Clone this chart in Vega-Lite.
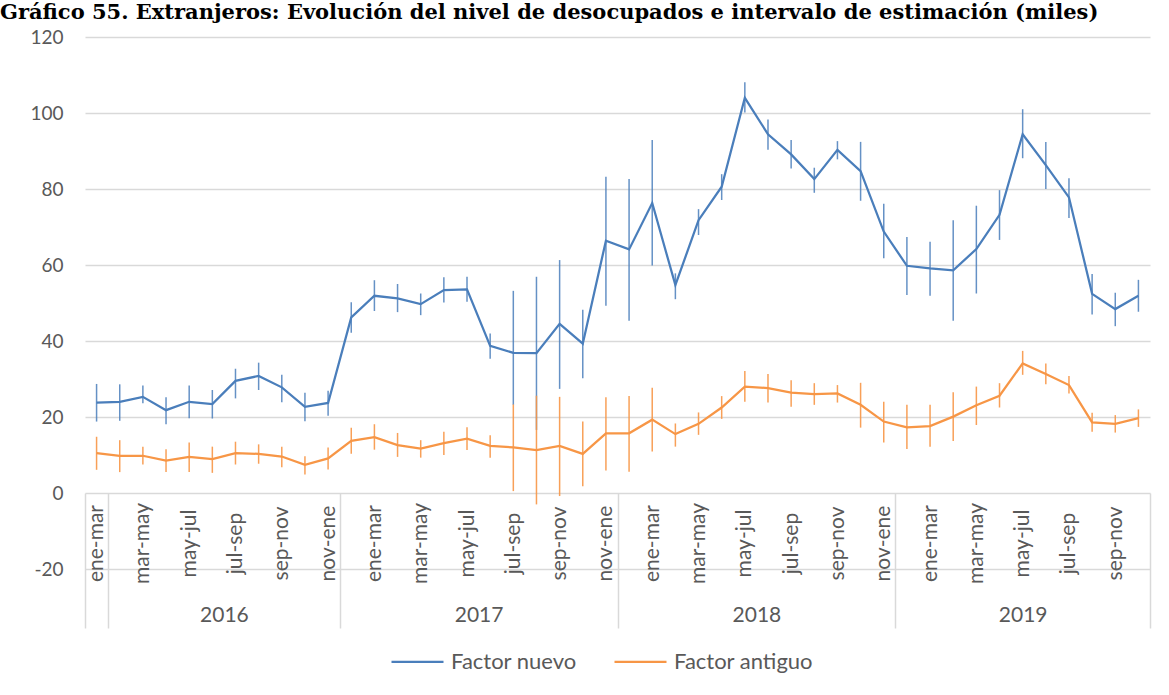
{
  "$schema": "https://vega.github.io/schema/vega-lite/v6.json",
  "width": 1065,
  "height": 532,
  "autosize": {"type": "none"},
  "padding": {"left": 85, "top": 37, "right": 19, "bottom": 126},
  "background": "white",
  "title": {
    "text": "Gráfico 55. Extranjeros: Evolución del nivel de desocupados e intervalo de estimación (miles)",
    "font": "DejaVu Serif",
    "fontWeight": "bold",
    "fontSize": 21,
    "color": "#000000",
    "anchor": "start",
    "frame": "group",
    "dx": -85,
    "offset": 5
  },
  "config": {
    "view": {"stroke": null},
    "font": "Lato"
  },
  "data": {
    "values": [
      {"i": 1, "p": "ene-mar", "s": "Factor nuevo", "v": 23.8, "lo": 18.8, "hi": 28.7},
      {"i": 2, "p": "feb-abr", "s": "Factor nuevo", "v": 24.0, "lo": 19.0, "hi": 28.6},
      {"i": 3, "p": "mar-may", "s": "Factor nuevo", "v": 25.3, "lo": 23.6, "hi": 28.3},
      {"i": 4, "p": "abr-jun", "s": "Factor nuevo", "v": 21.8, "lo": 18.1, "hi": 25.2},
      {"i": 5, "p": "may-jul", "s": "Factor nuevo", "v": 24.0, "lo": 19.7, "hi": 28.3},
      {"i": 6, "p": "jun-ago", "s": "Factor nuevo", "v": 23.4, "lo": 19.6, "hi": 27.1},
      {"i": 7, "p": "jul-sep", "s": "Factor nuevo", "v": 29.5, "lo": 24.9, "hi": 32.7},
      {"i": 8, "p": "ago-oct", "s": "Factor nuevo", "v": 30.8, "lo": 27.1, "hi": 34.3},
      {"i": 9, "p": "sep-nov", "s": "Factor nuevo", "v": 27.8, "lo": 23.9, "hi": 31.1},
      {"i": 10, "p": "oct-dic", "s": "Factor nuevo", "v": 22.7, "lo": 18.9, "hi": 26.4},
      {"i": 11, "p": "nov-ene", "s": "Factor nuevo", "v": 23.7, "lo": 20.3, "hi": 26.9},
      {"i": 12, "p": "dic-feb", "s": "Factor nuevo", "v": 46.2, "lo": 42.2, "hi": 50.2},
      {"i": 13, "p": "ene-mar", "s": "Factor nuevo", "v": 51.9, "lo": 47.9, "hi": 56.0},
      {"i": 14, "p": "feb-abr", "s": "Factor nuevo", "v": 51.2, "lo": 47.6, "hi": 55.0},
      {"i": 15, "p": "mar-may", "s": "Factor nuevo", "v": 49.7, "lo": 46.8, "hi": 52.5},
      {"i": 16, "p": "abr-jun", "s": "Factor nuevo", "v": 53.4, "lo": 50.1, "hi": 56.8},
      {"i": 17, "p": "may-jul", "s": "Factor nuevo", "v": 53.6, "lo": 50.3, "hi": 56.9},
      {"i": 18, "p": "jun-ago", "s": "Factor nuevo", "v": 38.7, "lo": 35.3, "hi": 42.0},
      {"i": 19, "p": "jul-sep", "s": "Factor nuevo", "v": 36.9, "lo": 23.2, "hi": 53.2},
      {"i": 20, "p": "ago-oct", "s": "Factor nuevo", "v": 36.8, "lo": 16.6, "hi": 56.9},
      {"i": 21, "p": "sep-nov", "s": "Factor nuevo", "v": 44.5, "lo": 27.4, "hi": 61.3},
      {"i": 22, "p": "oct-dic", "s": "Factor nuevo", "v": 39.3, "lo": 30.2, "hi": 48.2},
      {"i": 23, "p": "nov-ene", "s": "Factor nuevo", "v": 66.4, "lo": 49.3, "hi": 83.2},
      {"i": 24, "p": "dic-feb", "s": "Factor nuevo", "v": 64.1, "lo": 45.3, "hi": 82.6},
      {"i": 25, "p": "ene-mar", "s": "Factor nuevo", "v": 76.3, "lo": 59.9, "hi": 92.9},
      {"i": 26, "p": "feb-abr", "s": "Factor nuevo", "v": 54.7, "lo": 51.0, "hi": 57.8},
      {"i": 27, "p": "mar-may", "s": "Factor nuevo", "v": 71.8, "lo": 67.9, "hi": 74.7},
      {"i": 28, "p": "abr-jun", "s": "Factor nuevo", "v": 80.6, "lo": 77.1, "hi": 83.9},
      {"i": 29, "p": "may-jul", "s": "Factor nuevo", "v": 104.0, "lo": 100.1, "hi": 108.1},
      {"i": 30, "p": "jun-ago", "s": "Factor nuevo", "v": 94.4, "lo": 90.3, "hi": 98.3},
      {"i": 31, "p": "jul-sep", "s": "Factor nuevo", "v": 89.1, "lo": 85.4, "hi": 92.9},
      {"i": 32, "p": "ago-oct", "s": "Factor nuevo", "v": 82.6, "lo": 79.0, "hi": 85.6},
      {"i": 33, "p": "sep-nov", "s": "Factor nuevo", "v": 90.3, "lo": 87.8, "hi": 92.6},
      {"i": 34, "p": "oct-dic", "s": "Factor nuevo", "v": 84.7, "lo": 76.9, "hi": 92.4},
      {"i": 35, "p": "nov-ene", "s": "Factor nuevo", "v": 68.8, "lo": 61.8, "hi": 76.1},
      {"i": 36, "p": "dic-feb", "s": "Factor nuevo", "v": 59.8, "lo": 52.1, "hi": 67.4},
      {"i": 37, "p": "ene-mar", "s": "Factor nuevo", "v": 59.1, "lo": 51.9, "hi": 66.1},
      {"i": 38, "p": "feb-abr", "s": "Factor nuevo", "v": 58.6, "lo": 45.3, "hi": 71.8},
      {"i": 39, "p": "mar-may", "s": "Factor nuevo", "v": 64.2, "lo": 52.5, "hi": 75.6},
      {"i": 40, "p": "abr-jun", "s": "Factor nuevo", "v": 73.2, "lo": 66.6, "hi": 79.7},
      {"i": 41, "p": "may-jul", "s": "Factor nuevo", "v": 94.4, "lo": 88.1, "hi": 101.0},
      {"i": 42, "p": "jun-ago", "s": "Factor nuevo", "v": 86.3, "lo": 80.0, "hi": 92.4},
      {"i": 43, "p": "jul-sep", "s": "Factor nuevo", "v": 77.8, "lo": 72.4, "hi": 82.8},
      {"i": 44, "p": "ago-oct", "s": "Factor nuevo", "v": 52.4, "lo": 47.0, "hi": 57.6},
      {"i": 45, "p": "sep-nov", "s": "Factor nuevo", "v": 48.4, "lo": 43.9, "hi": 52.7},
      {"i": 46, "p": "oct-dic", "s": "Factor nuevo", "v": 51.9, "lo": 47.7, "hi": 56.1},
      {"i": 1, "p": "ene-mar", "s": "Factor antiguo", "v": 10.5, "lo": 6.1, "hi": 14.8},
      {"i": 2, "p": "feb-abr", "s": "Factor antiguo", "v": 9.8, "lo": 5.5, "hi": 13.9},
      {"i": 3, "p": "mar-may", "s": "Factor antiguo", "v": 9.8, "lo": 7.5, "hi": 12.2},
      {"i": 4, "p": "abr-jun", "s": "Factor antiguo", "v": 8.5, "lo": 5.5, "hi": 11.5},
      {"i": 5, "p": "may-jul", "s": "Factor antiguo", "v": 9.5, "lo": 5.5, "hi": 13.3},
      {"i": 6, "p": "jun-ago", "s": "Factor antiguo", "v": 8.9, "lo": 5.3, "hi": 12.2},
      {"i": 7, "p": "jul-sep", "s": "Factor antiguo", "v": 10.5, "lo": 7.5, "hi": 13.5},
      {"i": 8, "p": "ago-oct", "s": "Factor antiguo", "v": 10.3, "lo": 7.7, "hi": 12.8},
      {"i": 9, "p": "sep-nov", "s": "Factor antiguo", "v": 9.6, "lo": 6.8, "hi": 12.2},
      {"i": 10, "p": "oct-dic", "s": "Factor antiguo", "v": 7.4, "lo": 4.9, "hi": 9.7},
      {"i": 11, "p": "nov-ene", "s": "Factor antiguo", "v": 9.1, "lo": 6.2, "hi": 12.0},
      {"i": 12, "p": "dic-feb", "s": "Factor antiguo", "v": 13.7, "lo": 10.3, "hi": 17.2},
      {"i": 13, "p": "ene-mar", "s": "Factor antiguo", "v": 14.7, "lo": 11.4, "hi": 18.1},
      {"i": 14, "p": "feb-abr", "s": "Factor antiguo", "v": 12.6, "lo": 9.5, "hi": 15.8},
      {"i": 15, "p": "mar-may", "s": "Factor antiguo", "v": 11.7, "lo": 9.3, "hi": 13.9},
      {"i": 16, "p": "abr-jun", "s": "Factor antiguo", "v": 13.1, "lo": 10.0, "hi": 16.1},
      {"i": 17, "p": "may-jul", "s": "Factor antiguo", "v": 14.3, "lo": 11.3, "hi": 17.3},
      {"i": 18, "p": "jun-ago", "s": "Factor antiguo", "v": 12.4, "lo": 9.3, "hi": 15.2},
      {"i": 19, "p": "jul-sep", "s": "Factor antiguo", "v": 12.0, "lo": 0.5, "hi": 23.3},
      {"i": 20, "p": "ago-oct", "s": "Factor antiguo", "v": 11.3, "lo": -3.0, "hi": 25.6},
      {"i": 21, "p": "sep-nov", "s": "Factor antiguo", "v": 12.4, "lo": -0.8, "hi": 25.3},
      {"i": 22, "p": "oct-dic", "s": "Factor antiguo", "v": 10.3, "lo": 1.8, "hi": 18.8},
      {"i": 23, "p": "nov-ene", "s": "Factor antiguo", "v": 15.7, "lo": 5.9, "hi": 25.2},
      {"i": 24, "p": "dic-feb", "s": "Factor antiguo", "v": 15.7, "lo": 5.6, "hi": 25.5},
      {"i": 25, "p": "ene-mar", "s": "Factor antiguo", "v": 19.3, "lo": 10.9, "hi": 27.7},
      {"i": 26, "p": "feb-abr", "s": "Factor antiguo", "v": 15.5, "lo": 12.2, "hi": 18.3},
      {"i": 27, "p": "mar-may", "s": "Factor antiguo", "v": 18.2, "lo": 15.3, "hi": 21.2},
      {"i": 28, "p": "abr-jun", "s": "Factor antiguo", "v": 22.5, "lo": 19.5, "hi": 25.5},
      {"i": 29, "p": "may-jul", "s": "Factor antiguo", "v": 28.0, "lo": 24.0, "hi": 32.1},
      {"i": 30, "p": "jun-ago", "s": "Factor antiguo", "v": 27.6, "lo": 23.8, "hi": 31.3},
      {"i": 31, "p": "jul-sep", "s": "Factor antiguo", "v": 26.4, "lo": 22.7, "hi": 29.7},
      {"i": 32, "p": "ago-oct", "s": "Factor antiguo", "v": 26.0, "lo": 23.2, "hi": 28.9},
      {"i": 33, "p": "sep-nov", "s": "Factor antiguo", "v": 26.2, "lo": 23.8, "hi": 28.4},
      {"i": 34, "p": "oct-dic", "s": "Factor antiguo", "v": 23.2, "lo": 17.2, "hi": 29.0},
      {"i": 35, "p": "nov-ene", "s": "Factor antiguo", "v": 18.8, "lo": 13.3, "hi": 24.0},
      {"i": 36, "p": "dic-feb", "s": "Factor antiguo", "v": 17.3, "lo": 11.6, "hi": 23.2},
      {"i": 37, "p": "ene-mar", "s": "Factor antiguo", "v": 17.6, "lo": 12.2, "hi": 23.2},
      {"i": 38, "p": "feb-abr", "s": "Factor antiguo", "v": 20.1, "lo": 13.7, "hi": 26.5},
      {"i": 39, "p": "mar-may", "s": "Factor antiguo", "v": 23.1, "lo": 17.9, "hi": 28.0},
      {"i": 40, "p": "abr-jun", "s": "Factor antiguo", "v": 25.6, "lo": 22.5, "hi": 28.9},
      {"i": 41, "p": "may-jul", "s": "Factor antiguo", "v": 34.1, "lo": 31.1, "hi": 37.4},
      {"i": 42, "p": "jun-ago", "s": "Factor antiguo", "v": 31.3, "lo": 28.6, "hi": 34.1},
      {"i": 43, "p": "jul-sep", "s": "Factor antiguo", "v": 28.4, "lo": 26.2, "hi": 30.8},
      {"i": 44, "p": "ago-oct", "s": "Factor antiguo", "v": 18.6, "lo": 16.1, "hi": 21.1},
      {"i": 45, "p": "sep-nov", "s": "Factor antiguo", "v": 18.2, "lo": 15.9, "hi": 20.5},
      {"i": 46, "p": "oct-dic", "s": "Factor antiguo", "v": 19.7, "lo": 17.4, "hi": 22.0}
    ]
  },
  "layer": [
    {
      "transform": [{"filter": "datum.s == 'Factor nuevo'"}],
      "mark": {"type": "rule", "color": "#4A7EBB", "strokeWidth": 1.5, "opacity": 0.85},
      "encoding": {
        "x": {
          "field": "i", "type": "quantitative",
          "scale": {"domain": [0.5, 46.5], "nice": false, "zero": false},
          "axis": {
            "orient": "bottom", "offset": -76, "title": null,
            "values": [0.5, 1.5, 11.5, 23.5, 35.5, 46.5],
            "labels": false, "domain": false, "grid": false,
            "ticks": true, "tickSize": 135, "tickColor": "#d9d9d9", "tickWidth": 1.5
          }
        },
        "y": {
          "field": "lo", "type": "quantitative", "title": null,
          "scale": {"domain": [-20, 120], "nice": false, "zero": false},
          "axis": {
            "values": [-20, 0, 20, 40, 60, 80, 100, 120],
            "labelExpr": "'' + datum.value",
            "domain": false, "ticks": false, "grid": true,
            "gridColor": "#d9d9d9", "gridWidth": 1.5,
            "labelFont": "Lato", "labelFontSize": 19, "labelColor": "#595959",
            "labelPadding": 22, "title": null
          }
        },
        "y2": {"field": "hi"}
      }
    },
    {
      "mark": {"type": "line", "strokeWidth": 2.25},
      "encoding": {
        "x": {
          "field": "i", "type": "quantitative",
          "scale": {"domain": [0.5, 46.5], "nice": false, "zero": false},
          "axis": {
            "orient": "bottom", "offset": -76, "title": null,
            "values": [1, 3, 5, 7, 9, 11, 13, 15, 17, 19, 21, 23, 25, 27, 29, 31, 33, 35, 37, 39, 41, 43, 45],
            "labelExpr": "['ene-mar','feb-abr','mar-may','abr-jun','may-jul','jun-ago','jul-sep','ago-oct','sep-nov','oct-dic','nov-ene','dic-feb'][(datum.value - 1) % 12]",
            "labelAngle": 270, "labelAlign": "center", "labelBaseline": "middle",
            "labelPadding": 50, "labelOverlap": false, "labelFlush": false,
            "labelFont": "Lato", "labelFontSize": 21, "labelColor": "#595959",
            "ticks": false, "domain": false, "grid": false
          }
        },
        "y": {"field": "v", "type": "quantitative", "title": null},
        "color": {
          "field": "s", "type": "nominal",
          "scale": {"domain": ["Factor nuevo", "Factor antiguo"], "range": ["#4A7EBB", "#F79646"]},
          "legend": {
            "title": null, "orient": "none", "direction": "horizontal",
            "legendX": 305, "legendY": 597,
            "symbolType": "stroke", "symbolSize": 2704, "symbolStrokeWidth": 2.25,
            "labelFont": "Lato", "labelFontSize": 22, "labelColor": "#595959",
            "labelOffset": 6, "columnPadding": 33
          }
        },
        "detail": {"field": "s"}
      }
    },
    {
      "transform": [{"filter": "datum.s == 'Factor antiguo'"}],
      "mark": {"type": "rule", "color": "#F79646", "strokeWidth": 1.5, "opacity": 0.9},
      "encoding": {
        "x": {
          "field": "i", "type": "quantitative",
          "scale": {"domain": [0.5, 46.5], "nice": false, "zero": false},
          "axis": {
            "orient": "bottom", "offset": -76, "title": null,
            "values": [6.5, 17.5, 29.5, 41],
            "labelExpr": "datum.value < 12 ? '2016' : datum.value < 24 ? '2017' : datum.value < 36 ? '2018' : '2019'",
            "labelAngle": 0, "labelAlign": "center", "labelBaseline": "middle",
            "labelPadding": 122, "labelOverlap": false, "labelFlush": false,
            "labelFont": "Lato", "labelFontSize": 21, "labelColor": "#595959",
            "ticks": false, "domain": false, "grid": false
          }
        },
        "y": {"field": "lo", "type": "quantitative", "title": null},
        "y2": {"field": "hi"}
      }
    }
  ],
  "resolve": {"axis": {"x": "independent"}}
}
